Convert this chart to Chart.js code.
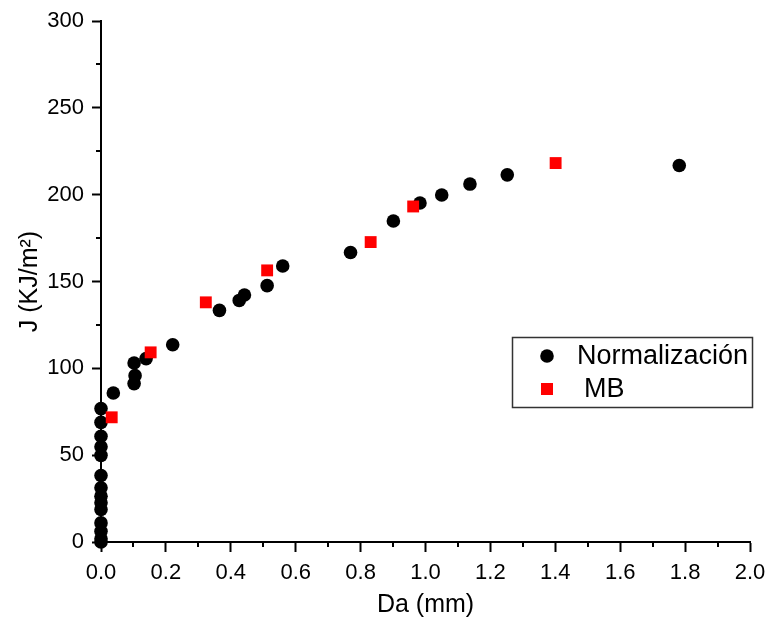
<!DOCTYPE html>
<html>
<head>
<meta charset="utf-8">
<script src="https://cdn.jsdelivr.net/npm/chart.js@4/dist/chart.umd.min.js"></script>
<style>
  html,body{margin:0;padding:0;background:#fff;}
  #wrap{width:766px;height:624px;position:relative;}
</style>
</head>
<body>
<div id="wrap"><canvas id="c" width="766" height="624"></canvas></div>
<script>
// ---- data ----
const normX = [0,0,0,0,0,0,0,0,0,0,0,0,0,0,
  0.038,0.102,0.105,0.102,0.139,0.221,0.365,0.426,0.442,0.512,0.560,0.769,0.901,0.983,1.050,1.137,1.252,1.782];
const normY = [76.8,68.9,60.9,54.8,49.9,38.3,31.2,26.4,22.6,18.7,11.0,6.2,1.8,0,
  85.8,91.2,95.8,103.1,105.6,113.6,133.4,139.1,142.2,147.6,158.9,166.7,184.8,195.2,199.8,206.1,211.4,216.8];
const mbX = [0.033,0.153,0.323,0.512,0.831,0.962,1.401];
const mbY = [71.8,109.2,138.0,156.4,172.7,193.2,218.2];
const seriesLabels = ['Normalización', 'MB'];
const xTitle = 'Da (mm)';
const yTitle = 'J (KJ/m²)';
const xMinorTicks = [0.1,0.3,0.5,0.7,0.9,1.1,1.3,1.5,1.7,1.9];
const yMinorTicks = [25,75,125,175,225,275];

const toPts = (xs, ys) => xs.map((x, i) => ({x: x, y: ys[i]}));

const FONT = "'Liberation Sans', Arial, sans-serif";

const minorTicks = {
  id: 'minorTicks',
  beforeDatasetsDraw(chart) {
    const {ctx, scales: {x, y}} = chart;
    ctx.save();
    ctx.strokeStyle = '#000';
    ctx.lineWidth = 2;
    ctx.beginPath();
    yMinorTicks.forEach(v => {
      const py = Math.round(y.getPixelForValue(v));
      ctx.moveTo(x.left - 5, py); ctx.lineTo(x.left, py);
    });
    xMinorTicks.forEach(v => {
      const px = Math.round(x.getPixelForValue(v));
      ctx.moveTo(px, y.bottom); ctx.lineTo(px, y.bottom + 5);
    });
    ctx.stroke();
    ctx.restore();
  }
};

const boxLegend = {
  id: 'boxLegend',
  afterDraw(chart) {
    const {ctx} = chart;
    const ds = chart.data.datasets;
    ctx.save();
    ctx.strokeStyle = '#333';
    ctx.lineWidth = 1.5;
    ctx.strokeRect(512.5, 337.5, 240, 70);
    ctx.font = '27px ' + FONT;
    ctx.textBaseline = 'middle';
    // item 1: circle
    ctx.beginPath();
    ctx.fillStyle = ds[0].backgroundColor;
    ctx.arc(547, 356, 6.8, 0, Math.PI * 2);
    ctx.fill();
    ctx.fillStyle = '#000';
    ctx.fillText(ds[0].label, 577, 357);
    // item 2: square
    ctx.fillStyle = ds[1].backgroundColor;
    ctx.fillRect(541, 383, 12, 12);
    ctx.fillStyle = '#000';
    ctx.fillText(ds[1].label, 584, 390);
    ctx.restore();
  }
};

new Chart(document.getElementById('c'), {
  type: 'scatter',
  data: {
    datasets: [
      {
        label: seriesLabels[0],
        data: toPts(normX, normY),
        backgroundColor: '#000',
        borderColor: '#000',
        borderWidth: 0,
        pointStyle: 'circle',
        pointRadius: 6.8,
        pointHoverRadius: 6.8,
        clip: false,
        order: 1
      },
      {
        label: seriesLabels[1],
        data: toPts(mbX, mbY),
        backgroundColor: '#ff0000',
        borderColor: '#ff0000',
        borderWidth: 0,
        pointStyle: 'rect',
        pointRadius: 8.4,
        pointHoverRadius: 8.4,
        clip: false,
        order: 0
      }
    ]
  },
  options: {
    responsive: false,
    animation: false,
    events: [],
    layout: {padding: {left: 0, right: 16, top: 21, bottom: 0}},
    plugins: {
      legend: {display: false},
      tooltip: {enabled: false}
    },
    scales: {
      x: {
        type: 'linear',
        min: 0, max: 2,
        afterFit(scale) { scale.height = 82; scale.paddingRight = 0; scale.paddingLeft = 0; },
        border: {display: true, color: '#000', width: 2},
        grid: {drawOnChartArea: false, drawTicks: true, tickLength: 10, color: '#000', tickColor: '#000', tickWidth: 2},
        ticks: {
          stepSize: 0.2,
          padding: 8,
          color: '#000',
          font: {family: FONT, size: 22},
          maxRotation: 0,
          callback: v => Number(v).toFixed(1)
        },
        title: {display: true, text: xTitle, color: '#000', font: {family: FONT, size: 25}, padding: {top: 0, bottom: 4}}
      },
      y: {
        type: 'linear',
        min: 0, max: 300,
        afterFit(scale) { scale.width = 101; scale.paddingTop = 0; scale.paddingBottom = 0; },
        border: {display: true, color: '#000', width: 2},
        grid: {drawOnChartArea: false, drawTicks: true, tickLength: 9, color: '#000', tickColor: '#000', tickWidth: 2},
        ticks: {
          stepSize: 50,
          padding: 8,
          color: '#000',
          font: {family: FONT, size: 22}
        },
        title: {display: true, text: yTitle, color: '#000', font: {family: FONT, size: 25}, padding: {top: 15, bottom: 0}}
      }
    }
  },
  plugins: [minorTicks, boxLegend]
});
</script>
</body>
</html>
